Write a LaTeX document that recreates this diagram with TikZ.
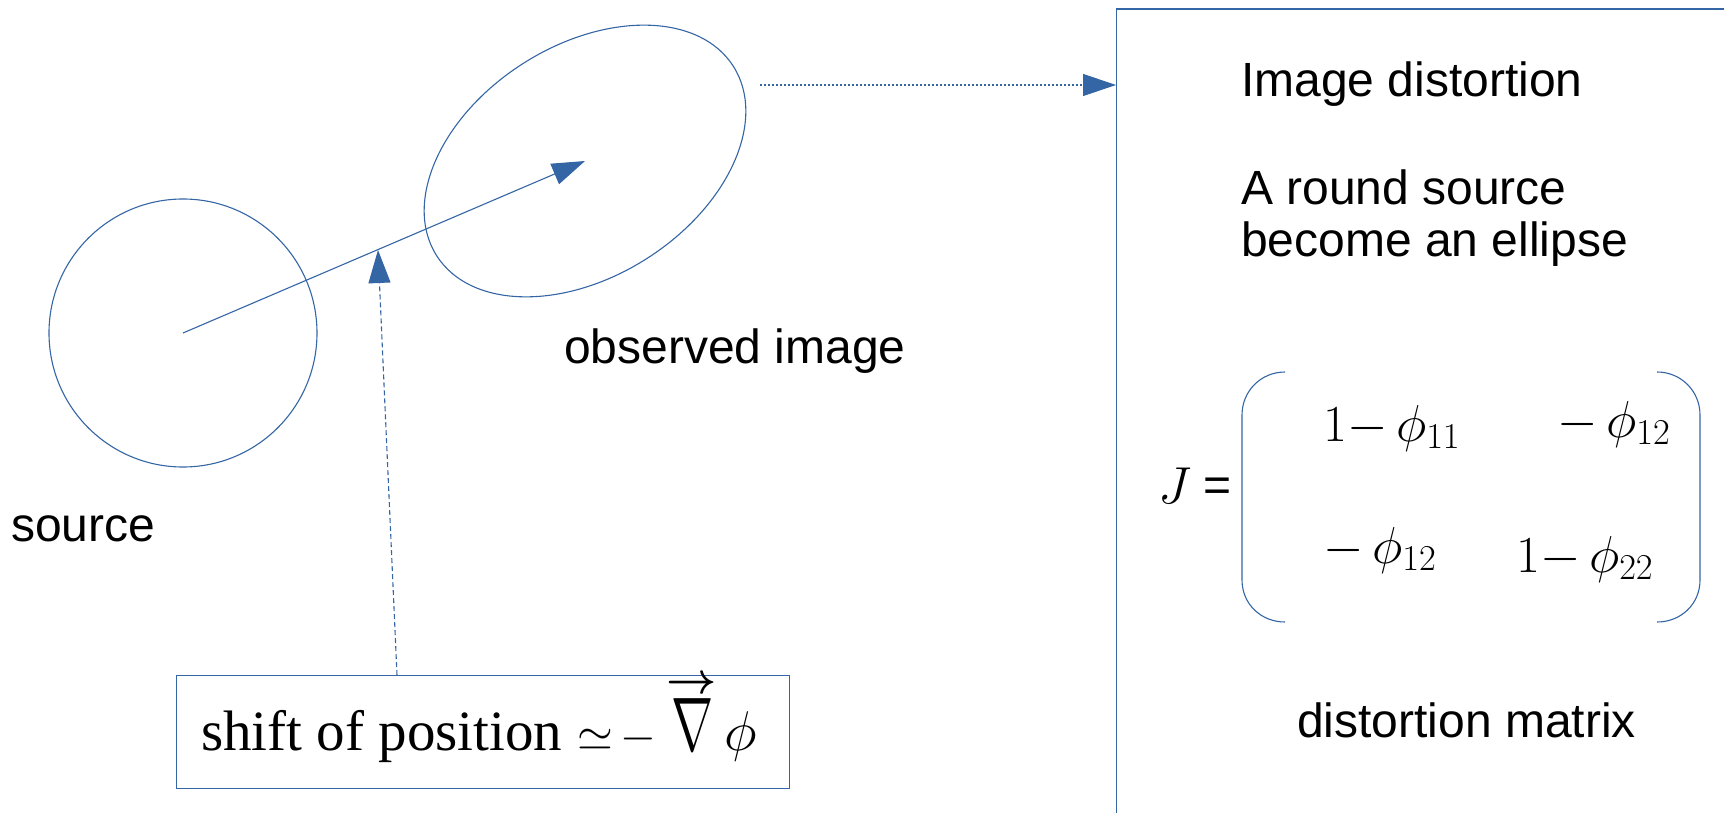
\RequirePackage{fix-cm}
\documentclass[tikz,border=0pt]{standalone}
\usepackage{amsmath}
\usepackage{fontspec}
\setmainfont{Liberation Sans}
\newfontfamily\serifb{Liberation Serif}
\usetikzlibrary{arrows.meta,shapes.geometric,calc}
\definecolor{lo}{HTML}{3465A4}
\tikzset{
  outline/.style={draw=lo, line width=1.1pt, inner sep=0pt},
  arrowline/.style={draw=lo, line width=1.1pt, -{Triangle[length=33pt,width=22pt]}},
  lbl/.style={font=\fontsize{48}{52}\selectfont, inner sep=0pt, anchor=base west},
  mat/.style={font=\fontsize{52}{56}\selectfont, inner sep=0pt, anchor=base west}
}
\begin{document}
\begin{tikzpicture}[x=1pt,y=-1pt]
\useasboundingbox (0,0) rectangle (1724,813);
% source and image
\node[outline, circle, minimum size=268pt] (src) at (183,333) {};
\node[outline, ellipse, minimum width=352pt, minimum height=231pt, rotate=32.6] (img) at (585,161) {};
\draw[arrowline] (src.center) -- (img.center);
\node[lbl] (srclbl) at (11,541) {source};
\node[lbl] (imglbl) at (564,363) {observed image};
% shift box
\node[outline, minimum width=613pt, minimum height=113pt, anchor=north west] (shiftbox) at (176,675) {};
\node[inner sep=0pt, anchor=base west] (shifttxt) at (201,750)
  {{\serifb\fontsize{57}{60}\selectfont shift of position}{\fontsize{46}{50}\selectfont$\mkern6mu\mathord{\simeq}\mkern3mu\mathord{-}\mkern4mu\overset{\scalebox{0.95}{$\boldsymbol{\rightarrow}$}}{\scalebox{1.1}[1.65]{$\nabla$}}\mkern3mu$}{\fontsize{56}{60}\selectfont$\phi$}};
\coordinate (vtip) at (378,250);
\draw[arrowline, dash pattern=on 5pt off 3pt] ([xshift=221pt]shiftbox.north west) -- (vtip);
% right box
\node[outline, minimum width=640pt, minimum height=840pt, anchor=north west] (rbox) at (1116,8.5) {};
\coordinate (dstart) at (760,85);
\draw[arrowline, dash pattern=on 2pt off 2pt] (dstart) -- (dstart -| rbox.west);
\node[lbl] (t1) at (1241,97) {Image distortion};
\node[lbl] (t2) at (1241,204.5) {A round source};
\node[lbl] (t3) at (1241,256.5) {become an ellipse};
\node[lbl] (t4) at (1297,737) {distortion matrix};
% matrix
\node[mat] (J) at (1158,503) {$J$};
\node[lbl] (eq) at (1203,501) {=};
\draw[draw=lo, line width=1.1pt] (1285,372) .. controls (1261,372) and (1242,391) .. (1242,415) -- (1242,580) .. controls (1242,604) and (1261,622) .. (1285,622);
\draw[draw=lo, line width=1.1pt] (1657,372) .. controls (1681,372) and (1700,391) .. (1700,415) -- (1700,580) .. controls (1700,604) and (1681,622) .. (1657,622);
\node[mat] (m11) at (1323,441) {$1\mathord{-}\,\phi_{11}$};
\node[mat] (m12) at (1557,437) {$\mathord{-}\,\phi_{12}$};
\node[mat] (m21) at (1323,563) {$\mathord{-}\,\phi_{12}$};
\node[mat] (m22) at (1516,572) {$1\mathord{-}\,\phi_{22}$};
\end{tikzpicture}
\end{document}
